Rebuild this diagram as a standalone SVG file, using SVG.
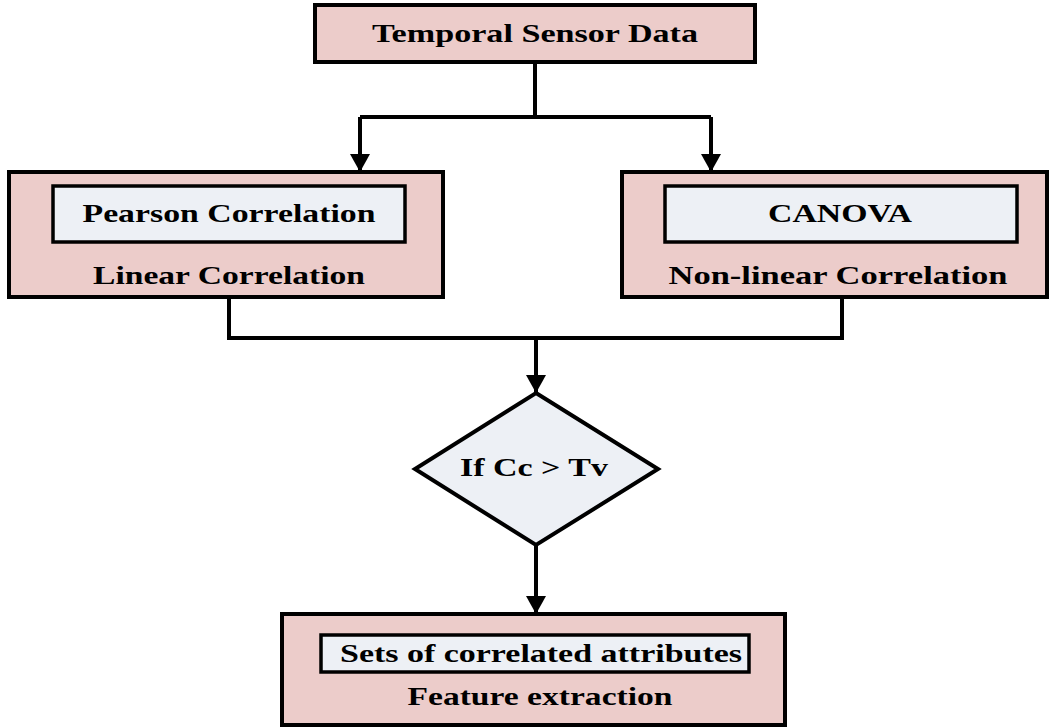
<svg xmlns="http://www.w3.org/2000/svg" width="1050" height="727" viewBox="0 0 1050 727">
<style>
.outer{fill:#ecccca;stroke:#000;stroke-width:4}
.inner{fill:#edf0f5;stroke:#000;stroke-width:3.5}
.t{font-family:"Liberation Serif","Times New Roman",serif;font-weight:bold;font-size:26px;fill:#000;text-anchor:middle}
.c{fill:none;stroke:#000;stroke-width:4}
</style>
<defs>
<marker id="arr" markerUnits="userSpaceOnUse" markerWidth="20" markerHeight="20" refX="18" refY="10" orient="auto">
<path d="M0,0 L18,10 L0,20 Z" fill="#000"/>
</marker>
</defs>
<rect width="1050" height="727" fill="#fff"/>
<g id="connectors">
<polyline class="c" points="535,62 535,117"/>
<polyline class="c" points="360,117 711,117"/>
<polyline class="c" points="360,117 360,172" marker-end="url(#arr)"/>
<polyline class="c" points="711,117 711,172" marker-end="url(#arr)"/>
<polyline class="c" points="229,297 229,338 842,338 842,297"/>
<polyline class="c" points="536,338 536,393" marker-end="url(#arr)"/>
<polyline class="c" points="536,545 536,614" marker-end="url(#arr)"/>
</g>
<g id="temporal">
<rect class="outer" x="315" y="5" width="440" height="57"/>
<text class="t" x="535" y="42" textLength="326" lengthAdjust="spacingAndGlyphs">Temporal Sensor Data</text>
</g>
<g id="linear">
<rect class="outer" x="9" y="172" width="434" height="125"/>
<rect class="inner" x="53" y="186" width="352" height="56"/>
<text class="t" x="229" y="222" textLength="293" lengthAdjust="spacingAndGlyphs">Pearson Correlation</text>
<text class="t" x="229" y="284" textLength="272" lengthAdjust="spacingAndGlyphs">Linear Correlation</text>
</g>
<g id="nonlinear">
<rect class="outer" x="622" y="172" width="425" height="125"/>
<rect class="inner" x="665" y="186" width="352" height="56"/>
<text class="t" x="840" y="222" textLength="144" lengthAdjust="spacingAndGlyphs">CANOVA</text>
<text class="t" x="838" y="284" textLength="339" lengthAdjust="spacingAndGlyphs">Non-linear Correlation</text>
</g>
<g id="decision">
<polygon points="536,393 658,469 536,545 415,469" fill="#edf0f5" stroke="#000" stroke-width="4"/>
<text class="t" x="534" y="476" textLength="148" lengthAdjust="spacingAndGlyphs">If Cc &gt; Tv</text>
</g>
<g id="feature">
<rect class="outer" x="282" y="614" width="503" height="111"/>
<rect class="inner" x="321" y="635" width="428" height="37"/>
<text class="t" x="541" y="662" textLength="402" lengthAdjust="spacingAndGlyphs">Sets of correlated attributes</text>
<text class="t" x="540" y="705" textLength="265" lengthAdjust="spacingAndGlyphs">Feature extraction</text>
</g>
</svg>
